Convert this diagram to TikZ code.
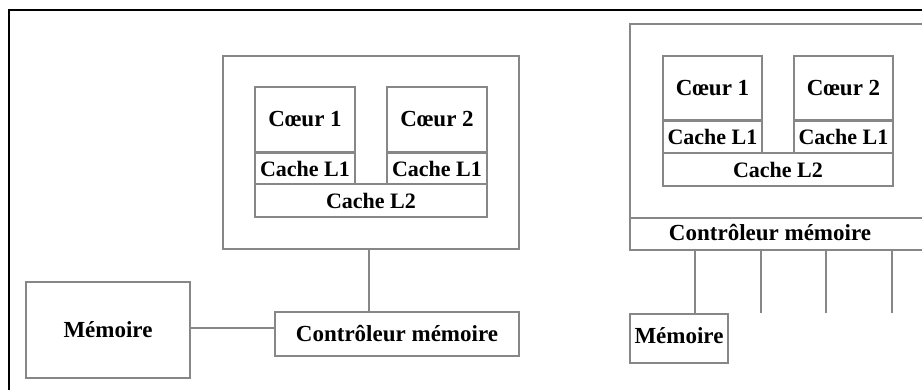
\documentclass[tikz,border=0pt]{standalone}
\usepackage{fontspec}
\setmainfont{Liberation Serif}
\definecolor{linegray}{RGB}{135,135,135}
\begin{document}
\begin{tikzpicture}[x=1pt,y=-1pt,
  box/.style={draw=linegray, line width=1.7pt, fill=white, inner sep=0pt,
    font=\fontsize{23}{27}\selectfont\bfseries, text=black},
  cachebox/.style={box, font=\fontsize{22}{26}\selectfont\bfseries},
  wire/.style={draw=linegray, line width=1.7pt},
  lbl/.style={inner sep=0pt, font=\fontsize{23}{27}\selectfont\bfseries, text=black}]
\useasboundingbox (0,0) rectangle (922,389);
\clip (0,0) rectangle (922,389);
\fill[white] (0,0) rectangle (922,389);
% outer frame
\draw[line width=2pt, black] (940,10) -- (9,10) -- (9,400);

% ---------- left diagram ----------
\node[box, minimum width=296, minimum height=193] (cpuL) at (371,152.5) {};
\node[box, minimum width=100, minimum height=65] (c1L) at (305,119.5) {Cœur 1};
\node[cachebox, minimum width=100, minimum height=31] (l1aL) at (305,168.5) {Cache L1};
\node[box, minimum width=100, minimum height=65] (c2L) at (437,119.5) {Cœur 2};
\node[cachebox, minimum width=100, minimum height=31] (l1bL) at (437,168.5) {Cache L1};
\node[cachebox, minimum width=232, minimum height=33] (l2L) at (371,200.5) {Cache L2};
\node[box, minimum width=244, minimum height=44] (ctrlL) at (397,334) {Contrôleur mémoire};
\node[box, minimum width=164, minimum height=96] (memL) at (108,330) {Mémoire};
\draw[wire] ([xshift=-2pt]cpuL.south) -- ([xshift=-2pt]cpuL.south |- ctrlL.north);
\draw[wire] ([yshift=2pt]memL.east) -- ([yshift=2pt]memL.east -| ctrlL.west);

% ---------- right diagram ----------
\node[box, minimum width=296, minimum height=194] (cpuR) at (778,121) {};
\node[box, minimum width=296, minimum height=32] (ctrlR) at (778,234) {};
\node[lbl] (ctrlRt) at (770,233) {Contrôleur mémoire};
\node[box, minimum width=99, minimum height=64] (c1R) at (712.5,88) {Cœur 1};
\node[cachebox, minimum width=99, minimum height=32] (l1aR) at (712.5,137) {Cache L1};
\node[box, minimum width=99, minimum height=64] (c2R) at (843.5,88) {Cœur 2};
\node[cachebox, minimum width=99, minimum height=32] (l1bR) at (843.5,137) {Cache L1};
\node[cachebox, minimum width=230, minimum height=33] (l2R) at (778,169.5) {Cache L2};
\node[box, minimum width=98, minimum height=49] (memR) at (679,338.5) {\raisebox{6pt}{Mémoire}};
\draw[wire] ([xshift=66pt]ctrlR.south west) -- ([xshift=66pt]ctrlR.south west |- memR.north);
\draw[wire] ([xshift=132pt]ctrlR.south west) -- ([xshift=132pt]ctrlR.south west |- memR.north);
\draw[wire] ([xshift=197pt]ctrlR.south west) -- ([xshift=197pt]ctrlR.south west |- memR.north);
\draw[wire] ([xshift=263pt]ctrlR.south west) -- ([xshift=263pt]ctrlR.south west |- memR.north);
\end{tikzpicture}
\end{document}
